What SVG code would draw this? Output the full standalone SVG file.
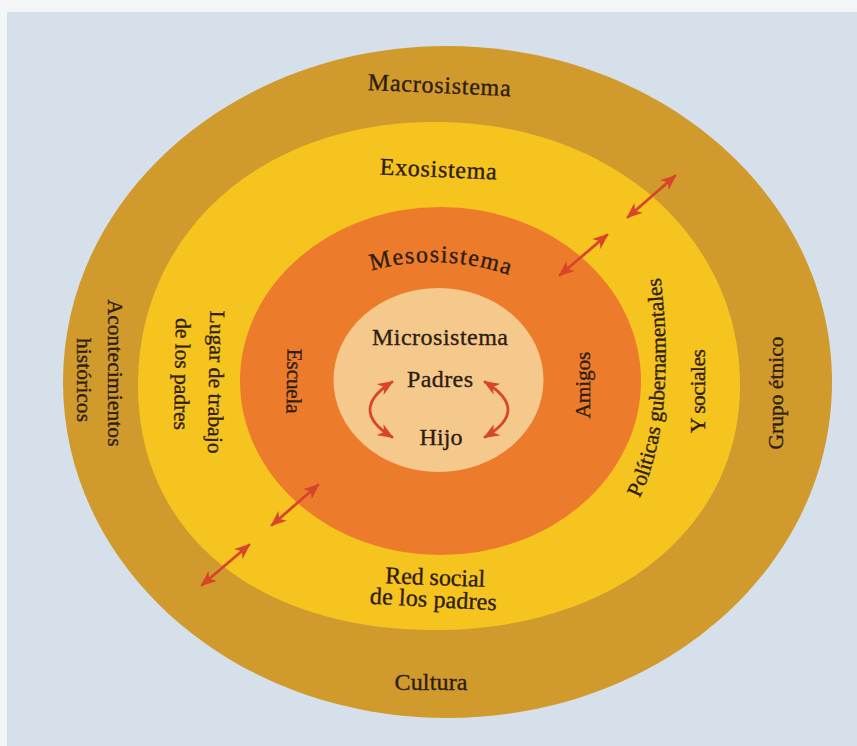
<svg xmlns="http://www.w3.org/2000/svg" width="857" height="746" viewBox="0 0 857 746">
<defs>
<style>
.t{font-family:"Liberation Serif","Times New Roman",serif;font-size:24px;fill:#2e1d12;stroke:#2e1d12;stroke-width:0.35;text-anchor:middle}
.v{font-size:21.5px}
.arr{fill:none;stroke:#d8452b;stroke-width:2.8;stroke-linecap:round}
</style>
<marker id="ah" viewBox="0 0 16 13" refX="14" refY="6.5" markerWidth="16" markerHeight="13" markerUnits="userSpaceOnUse" orient="auto-start-reverse">
<path d="M0,0 L16,6.5 L0,13 L4.5,6.5 Z" fill="#d8452b"/>
</marker>
<path id="pMeso" d="M 360 274 Q 440 248 520 279"/>
<path id="pPol" d="M 637 503 C 667 446, 671 360, 660 272"/>
</defs>
<rect x="0" y="0" width="857" height="746" fill="#d6e0ea"/>
<rect x="0" y="0" width="857" height="12" fill="#f3f5f7"/>
<rect x="0" y="0" width="7" height="746" fill="#f3f5f7"/>

<g id="macrosistema">
<path d="M 447 46 C 660 46 832 196 832 382 C 832 568 660 718 447 718 C 234 718 63 568 63 382 C 63 196 234 46 447 46 Z" fill="#d09a2d"/>
<text class="t" x="439" y="93" textLength="143" transform="rotate(2.5 439 93)">Macrosistema</text>
<text class="t v" transform="translate(108,373) rotate(90)" x="0" y="0" textLength="147">Acontecimientos</text>
<text class="t v" transform="translate(77,380) rotate(90)" x="0" y="0" textLength="84">históricos</text>
<text class="t v" transform="translate(783,393) rotate(-90)" x="0" y="0" textLength="113">Grupo étnico</text>
<text class="t" x="431" y="690" textLength="73">Cultura</text>
</g>

<g id="exosistema">
<path d="M 435 122 C 612 122 740 237 740 385 C 740 530 612 630 435 630 C 258 630 138 535 138 385 C 138 235 258 122 435 122 Z" fill="#f6c41f"/>
<text class="t" x="438" y="177" textLength="117" transform="rotate(2.5 438 177)">Exosistema</text>
<text class="t v" transform="translate(209,382) rotate(91)" x="0" y="0" textLength="143">Lugar de trabajo</text>
<text class="t v" transform="translate(175,374) rotate(91)" x="0" y="0" textLength="112">de los padres</text>
<text class="t v"><textPath href="#pPol" startOffset="50%" textLength="224">Políticas gubernamentales</textPath></text>
<text class="t v" transform="translate(705,391) rotate(-90)" x="0" y="0" textLength="84">Y sociales</text>
<text class="t" x="435" y="585" textLength="100" transform="rotate(2 435 585)">Red social</text>
<text class="t" x="433" y="607" textLength="127" transform="rotate(3 433 607)">de los padres</text>
</g>

<g id="mesosistema">
<ellipse cx="440.5" cy="381" rx="200.5" ry="174" fill="#ec7b2c"/>
<text class="t"><textPath href="#pMeso" startOffset="50%" textLength="140">Mesosistema</textPath></text>
<text class="t v" transform="translate(287,381) rotate(91)" x="0" y="0" textLength="65">Escuela</text>
<text class="t v" transform="translate(590,385) rotate(-90)" x="0" y="0" textLength="67">Amigos</text>
</g>

<g id="microsistema">
<ellipse cx="438.5" cy="380" rx="105" ry="92" fill="#f5c98b"/>
<text class="t" x="440" y="345" textLength="136">Microsistema</text>
<text class="t" x="440" y="387" textLength="66">Padres</text>
<text class="t" x="441" y="445" textLength="43">Hijo</text>
</g>

<g id="connectors">
<path class="arr" d="M 628 217 L 675 176" marker-start="url(#ah)" marker-end="url(#ah)"/>
<path class="arr" d="M 560 275 L 607 235" marker-start="url(#ah)" marker-end="url(#ah)"/>
<path class="arr" d="M 272 525 L 318 485" marker-start="url(#ah)" marker-end="url(#ah)"/>
<path class="arr" d="M 202 585 L 249 545" marker-start="url(#ah)" marker-end="url(#ah)"/>
<path class="arr" d="M 392 382 Q 348 410 392 437" marker-start="url(#ah)" marker-end="url(#ah)"/>
<path class="arr" d="M 485 382 Q 531 410 485 437" marker-start="url(#ah)" marker-end="url(#ah)"/>
</g>
</svg>
